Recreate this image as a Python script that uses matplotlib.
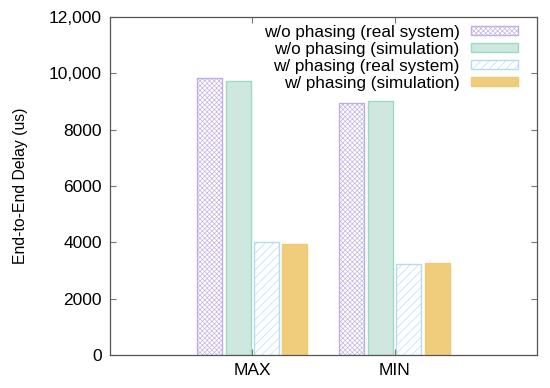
import numpy as np
import matplotlib
matplotlib.use("Agg")
import matplotlib.pyplot as plt
from matplotlib.ticker import FuncFormatter

# data
categories = ["MAX", "MIN"]
series_names = ["w/o phasing (real system)", "w/o phasing (simulation)",
                "w/ phasing (real system)", "w/ phasing (simulation)"]
wo_real = [9850, 8960]
wo_sim = [9740, 9030]
w_real = [4020, 3220]
w_sim = [3930, 3250]

plt.rcParams['font.family'] = ['Liberation Sans', 'DejaVu Sans']
plt.rcParams['hatch.linewidth'] = 0.45

fig = plt.figure(figsize=(5.5, 3.88), dpi=100)
ax = fig.add_axes([0.2, 0.085, 0.776, 0.871])

x = np.arange(len(categories))
w = 0.2
styles = [
    dict(facecolor="white", edgecolor="#c0aee0", hatch="xxxxxxx"),
    dict(facecolor="#cfe8df", edgecolor="#9ed9c2", hatch=None),
    dict(facecolor="white", edgecolor="#b3dcf2", hatch="////"),
    dict(facecolor="#f0cd7c", edgecolor="#f2c871", hatch=None),
]
values = [wo_real, wo_sim, w_real, w_sim]
for i, (vals, name, st) in enumerate(zip(values, series_names, styles)):
    ax.bar(x + (i - 1.5) * w, vals, width=w * 0.88, label=name,
           linewidth=1.0, **st)

ax.set_xlim(-1, 2)
ax.set_ylim(0, 12000)
ax.set_xticks(x)
ax.set_xticklabels(categories)
ax.set_yticks(np.arange(0, 12001, 2000))
ax.yaxis.set_major_formatter(FuncFormatter(
    lambda v, p: f"{int(v):,}" if v >= 10000 else f"{int(v)}"))
ax.tick_params(direction="in", top=True, right=True, labelsize=12.5,
               length=4, color="#777777", pad=6)
for s in ax.spines.values():
    s.set_color("#555555")
    s.set_linewidth(0.9)
ax.set_ylabel("End-to-End Delay (us)", fontsize=11.3, labelpad=15)

ax.legend(loc="upper right", bbox_to_anchor=(0.955, 0.978), frameon=False,
          markerfirst=False, fontsize=12.3, handlelength=2.75,
          handleheight=0.5, labelspacing=0.12, borderaxespad=0.0,
          borderpad=0.0, handletextpad=0.65)

fig.savefig("out.png", dpi=100)
